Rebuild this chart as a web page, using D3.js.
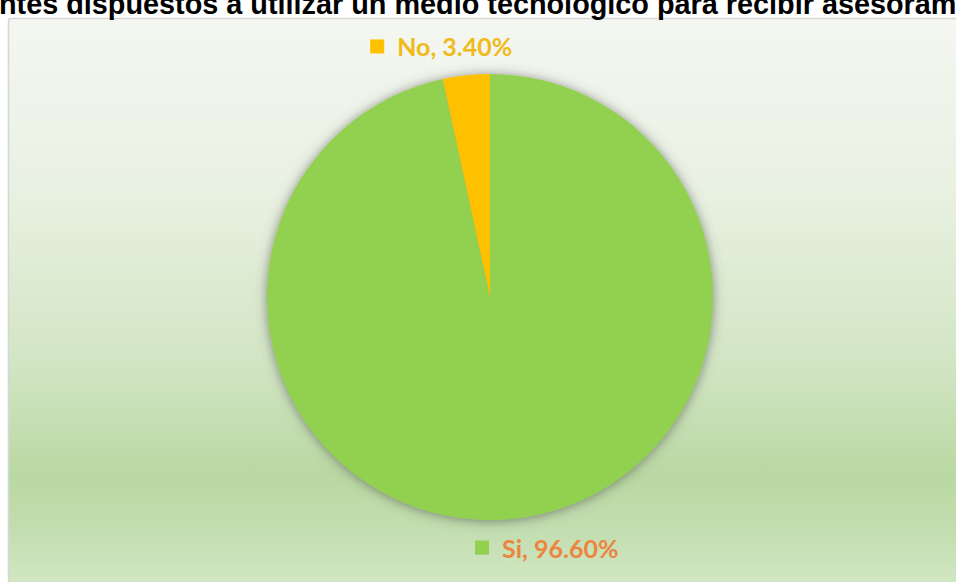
<!DOCTYPE html>
<html>
<head>
<meta charset="utf-8">
<script src="https://cdn.jsdelivr.net/npm/d3@7"></script>
<style>
  html, body { margin: 0; padding: 0; background: #ffffff; overflow: hidden; }
  svg { display: block; }
</style>
</head>
<body>
<svg id="chart" width="956" height="582"></svg>
<script>
// Survey answers: willingness to use a technological medium for advice
const categories = ["Si", "No"];
const shares = [96.6, 3.4];
const sliceColors = ["#92D050", "#FFC000"];
const labelColors = ["#EC8540", "#EFBA1A"];
const titleText = "Estudiantes dispuestos a utilizar un medio tecnológico para recibir asesoramiento";

const W = 956, H = 582;
const svg = d3.select("#chart");
const defs = svg.append("defs");

// Light gradient fill of the chart area
const grad = defs.append("linearGradient")
  .attr("id", "bg").attr("x1", 0).attr("y1", 0).attr("x2", 0).attr("y2", 1);
[[0, "#f4f7f1"], [0.3, "#e9f1e2"], [0.6, "#d2e5c4"], [0.8, "#b9d8a2"], [0.9, "#c3deb0"], [1, "#d4e8c6"]]
  .forEach(([o, c]) => grad.append("stop").attr("offset", o).attr("stop-color", c));

// Soft outer shadow around the pie
const shadow = defs.append("filter").attr("id", "pieShadow")
  .attr("x", "-20%").attr("y", "-20%").attr("width", "140%").attr("height", "140%");
shadow.append("feDropShadow")
  .attr("dx", 0).attr("dy", 1).attr("stdDeviation", 6)
  .attr("flood-color", "#505050").attr("flood-opacity", 0.65);

// Chart area frame
svg.append("rect")
  .attr("x", 8.5).attr("y", 18.5)
  .attr("width", 980).attr("height", 572)
  .attr("rx", 2)
  .attr("fill", "url(#bg)")
  .attr("stroke", "#d6d6d6").attr("stroke-width", 1.5);

// Title (wider than the frame, so it runs past both sides)
const title = svg.append("text")
  .attr("y", 14)
  .attr("font-family", "Liberation Sans, Arial, sans-serif")
  .attr("font-weight", "bold")
  .attr("font-size", 25)
  .attr("fill", "#000")
  .text(titleText);
{
  const node = title.node();
  const from = titleText.indexOf("ntes");
  const to = titleText.indexOf("asesoram") + "asesoram".length;
  const span = node.getSubStringLength(from, to - from);
  const fs = 25 * 958 / span;
  title.attr("font-size", fs);
  const pre = node.getSubStringLength(0, from);
  title.attr("x", -1 - pre);
}

// Pie
const cx = 490, cy = 297, r = 223;
const pie = d3.pie().sort(null).value(d => d)(shares);
const arc = d3.arc().innerRadius(0).outerRadius(r);

const g = svg.append("g").attr("transform", `translate(${cx},${cy})`);
g.append("g").attr("filter", "url(#pieShadow)")
  .selectAll("path")
  .data(pie)
  .join("path")
  .attr("d", arc)
  .attr("fill", (d, i) => sliceColors[i]);

// Data labels: legend key square + "category, value%"
const labelArc = d3.arc().innerRadius(r + 28).outerRadius(r + 28);
const nudge = [[30, 3], [-22, 1]];
const fmt = d3.format(".2f");
pie.forEach((d, i) => {
  const [ax, ay] = labelArc.centroid(d);
  const lg = g.append("g");
  const t = lg.append("text")
    .attr("font-family", "Lato, 'Open Sans', sans-serif")
    .attr("font-weight", "bold")
    .attr("font-size", 25)
    .attr("fill", labelColors[i])
    .text(`${categories[i]}, ${fmt(shares[i])}%`);
  const tw = t.node().getComputedTextLength();
  const total = 14 + 13 + tw;
  const x0 = ax + nudge[i][0] - total / 2;
  const base = ay + nudge[i][1] + 8;
  lg.append("rect")
    .attr("x", x0).attr("y", base - 17)
    .attr("width", 14).attr("height", 14)
    .attr("fill", sliceColors[i]);
  t.attr("x", x0 + 27).attr("y", base);
});
</script>
</body>
</html>
